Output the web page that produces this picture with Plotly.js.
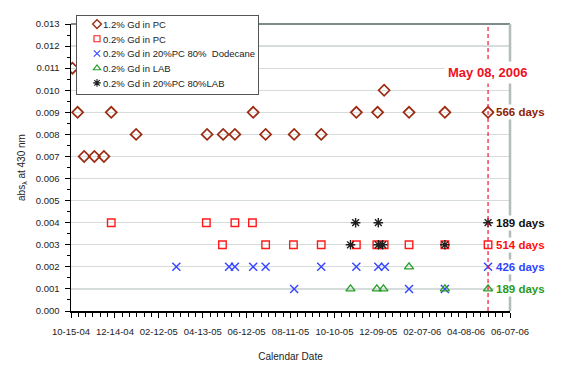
<!DOCTYPE html>
<html>
<head>
<meta charset="utf-8">
<script src="https://cdn.plot.ly/plotly-3.0.1.min.js"></script>
<style>
	html, body { margin: 0; padding: 0; background: #fff; }
	#chart { width: 572px; height: 382px; }
</style>
</head>
<body>
<div id="chart"></div>
<script>
// series, one x array and one y array per sample
const seriesNames = ['1.2% Gd in PC', '0.2% Gd in PC', '0.2% Gd in 20%PC 80%  Dodecane', '0.2% Gd in LAB', '0.2% Gd in 20%PC 80%LAB']

const gd12PcDates = ['2004-10-17', '2004-10-24', '2004-11-02', '2004-11-16', '2004-11-29', '2004-12-09', '2005-01-12', '2005-04-19', '2005-05-11', '2005-05-27', '2005-06-21', '2005-07-08', '2005-08-16', '2005-09-22', '2005-11-09', '2005-12-08', '2005-12-17', '2006-01-20', '2006-03-10', '2006-05-08']
const gd12PcAbs = [0.011, 0.009, 0.007, 0.007, 0.007, 0.009, 0.008, 0.008, 0.008, 0.008, 0.009, 0.008, 0.008, 0.008, 0.009, 0.009, 0.010, 0.009, 0.009, 0.009]

const gd02PcDates = ['2004-12-09', '2005-04-18', '2005-05-10', '2005-05-27', '2005-06-20', '2005-07-08', '2005-08-15', '2005-09-22', '2005-11-09', '2005-12-07', '2005-12-17', '2006-01-20', '2006-03-10', '2006-05-08']
const gd02PcAbs = [0.004, 0.004, 0.003, 0.004, 0.004, 0.003, 0.003, 0.003, 0.003, 0.003, 0.003, 0.003, 0.003, 0.003]

const gdDodecaneDates = ['2005-03-08', '2005-05-19', '2005-05-27', '2005-06-21', '2005-07-08', '2005-08-16', '2005-09-22', '2005-11-09', '2005-12-09', '2005-12-18', '2006-01-20', '2006-03-10', '2006-05-08']
const gdDodecaneAbs = [0.002, 0.002, 0.002, 0.002, 0.002, 0.001, 0.002, 0.002, 0.002, 0.002, 0.001, 0.001, 0.002]

const gdLabDates = ['2005-11-01', '2005-12-07', '2005-12-16', '2006-01-20', '2006-03-10', '2006-05-08']
const gdLabAbs = [0.001, 0.001, 0.001, 0.002, 0.001, 0.001]

const gdPcLabDates = ['2005-11-01', '2005-11-08', '2005-12-09', '2005-12-09', '2005-12-15', '2006-03-10', '2006-05-08']
const gdPcLabAbs = [0.003, 0.004, 0.004, 0.003, 0.003, 0.003, 0.004]

const daysLabels = ['566 days', '514 days', '426 days', '189 days', '189 days']

const cutDate = '2006-05-08'
const cutLabel = 'May 08, 2006'
const xRange = ['2004-10-15', '2006-06-07']
const yRange = [0, 0.013]


const DAY = 86400000
const narrow = 'Liberation Sans Narrow, Arial Narrow, Liberation Sans, Arial, sans-serif'
const colors = ['#9C2A10', '#FF1A1A', '#3344FF', '#2AA02A', '#1E1E1E']
const symbols = ['diamond-open', 'square-open', 'x-thin-open', 'triangle-up-open', 'asterisk-open']
const sizes = [8.5, 7.5, 8, 8, 8]
const xs = [gd12PcDates, gd02PcDates, gdDodecaneDates, gdLabDates, gdPcLabDates]
const ys = [gd12PcAbs, gd02PcAbs, gdDodecaneAbs, gdLabAbs, gdPcLabAbs]


const data = seriesNames.map((name, i) => ({
	x: xs[i],
	y: ys[i],
	name: name,
	type: 'scatter',
	mode: 'markers',
	marker: {
		symbol: symbols[i],
		size: sizes[i],
		color: colors[i],
		line: { color: colors[i], width: i == 0 ? 1.7 : 1.4 }
	}
}))


// H| day counts at the end of every series
const dayColors = ['#8E1E06', '#FF1010', '#2F45FF', '#2A9A1E', '#111111']
const annotations = seriesNames.map((name, i) => ({
	x: xs[i][xs[i].length - 1],
	y: ys[i][ys[i].length - 1],
	xref: 'x',
	yref: 'y',
	text: daysLabels[i],
	showarrow: false,
	xanchor: 'left',
	xshift: 6,
	bgcolor: '#fff',
	font: { family: narrow, size: 11.5, color: dayColors[i], weight: 'bold' }
}))

annotations.push({
	x: cutDate,
	y: 0.871,
	xref: 'x',
	yref: 'paper',
	text: cutLabel,
	showarrow: false,
	xanchor: 'center',
	bgcolor: '#fff',
	borderpad: 3,
	font: { family: narrow, size: 13, color: '#F0101E', weight: 'bold' }
})


const layout = {
	width: 572,
	height: 382,
	margin: { l: 71, r: 62, t: 24, b: 71, pad: 0 },
	paper_bgcolor: '#fff',
	plot_bgcolor: '#fff',
	font: { family: narrow, size: 9.5, color: '#222' },
	showlegend: true,
	legend: {
		x: 0.0114,
		y: 1.031,
		xanchor: 'left',
		yanchor: 'top',
		bgcolor: '#fff',
		bordercolor: '#555',
		borderwidth: 1,
		font: { family: narrow, size: 9.5, color: '#222' },
		itemwidth: 30
	},
	xaxis: {
		type: 'date',
		range: xRange,
		tick0: xRange[0],
		dtick: 60 * DAY,
		tickformat: '%m-%d-%y',
		tickangle: 0,
		ticks: 'outside',
		ticklen: 5,
		tickcolor: '#000',
		ticklabelstandoff: 6,
		tickfont: { family: narrow, size: 9.5, color: '#222' },
		showgrid: false,
		zeroline: false,
		showline: true,
		linecolor: '#000',
		linewidth: 1.5,
		minor: { tick0: xRange[0], dtick: 10 * DAY, ticks: 'outside', ticklen: 4, tickcolor: '#000' },
		title: { text: 'Calendar Date', font: { family: narrow, size: 10, color: '#222' }, standoff: 17 }
	},
	yaxis: {
		range: yRange,
		dtick: 0.001,
		tickformat: '.3f',
		ticks: 'outside',
		ticklen: 5,
		tickcolor: '#000',
		ticklabelstandoff: 3,
		tickfont: { family: narrow, size: 9.5, color: '#222' },
		showgrid: true,
		gridcolor: '#D6DCDC',
		gridwidth: 1.2,
		zeroline: false,
		showline: true,
		linecolor: '#000',
		linewidth: 1.5,
		minor: { dtick: 0.0005, ticks: 'outside', ticklen: 3, tickcolor: '#000' },
		title: { text: 'abs<sub>λ</sub> at 430 nm', font: { family: narrow, size: 10, color: '#222' }, standoff: 8 }
	},
	shapes: [
		// plot area frame, top and right
		{ type: 'line', xref: 'paper', yref: 'paper', x0: 0, x1: 1, y0: 1, y1: 1, line: { color: '#7F8C8C', width: 2 } },
		{ type: 'line', xref: 'paper', yref: 'paper', x0: 1, x1: 1, y0: 0, y1: 1, line: { color: '#B4BCBC', width: 2.5 } },
		{ type: 'line', xref: 'x', yref: 'paper', x0: cutDate, x1: cutDate, y0: 0, y1: 1, layer: 'above', line: { color: '#F0143C', width: 1.2, dash: '4px,3px' } }
	],
	annotations: annotations
}


Plotly.newPlot('chart', data, layout, { displayModeBar: false, staticPlot: true }).then(gd => {
	// squeeze the legend rows, Plotly keeps at least 19px per entry
	const rowGap = 14.7
	gd.querySelectorAll('.legend .traces').forEach((El, i) => {
		El.setAttribute('transform', `translate(1,${9 + i * rowGap})`)
		const txt = El.querySelector('.legendtext')
		if (txt) txt.setAttribute('x', 26)
		El.querySelectorAll('.legendpoints path').forEach(p => {
			const t = p.getAttribute('transform') || ''
			p.setAttribute('transform', t + ' scale(0.8)')
		})
	})
	const bg = gd.querySelector('.legend .bg')
	if (bg) {
		bg.setAttribute('height', 79)
		bg.setAttribute('width', 182)
	}
})
</script>
</body>
</html>
